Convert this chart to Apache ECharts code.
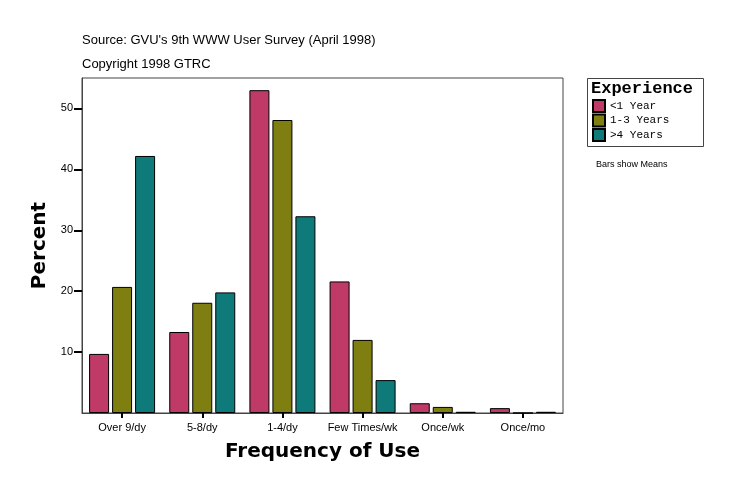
<!DOCTYPE html>
<html><head><meta charset="utf-8">
<script src="https://cdn.jsdelivr.net/npm/echarts@6/dist/echarts.min.js"></script>
<style>html,body{margin:0;padding:0;background:#fff}#c{width:736px;height:496px}</style>
</head><body><div id="c"></div>
<script>
const categories = ['Over 9/dy', '5-8/dy', '1-4/dy', 'Few Times/wk', 'Once/wk', 'Once/mo'];
const lessThan1 = [9.7, 13.3, 53.0, 21.6, 1.6, 0.8];
const oneToThree = [20.7, 18.1, 48.1, 12.0, 1.0, 0.0];
const moreThan4 = [42.2, 19.8, 32.3, 5.4, 0.2, 0.2];
const yTicks = [10, 20, 30, 40, 50];
const seriesNames = ['<1 Year', '1-3 Years', '>4 Years'];
const colors = ['#BF3A66', '#7F7F11', '#0E7A7A'];

const chart = echarts.init(document.getElementById('c'));
const mk = (name, data, color) => ({
  name, type: 'bar', data, barWidth: 20, barGap: '15%',
  itemStyle: { color, borderColor: '#000', borderWidth: 1 }
});
chart.setOption({
  animation: false,
  backgroundColor: '#fff',
  grid: { left: 82, top: 78, right: 173, bottom: 83, show: true, borderColor: '#444', borderWidth: 1 },
  xAxis: {
    type: 'category', data: categories,
    axisLine: { lineStyle: { color: '#444', width: 1 } },
    axisTick: { show: true, alignWithLabel: true, interval: 0, length: 5, lineStyle: { color: '#000', width: 2 } },
    axisLabel: { color: '#000', fontFamily: 'Liberation Sans', fontSize: 11, margin: 9, interval: 0 },
    name: 'Frequency of Use', nameLocation: 'middle', nameGap: 29,
    nameTextStyle: { fontFamily: 'DejaVu Sans', fontWeight: 'bold', fontSize: 20, color: '#000' }
  },
  yAxis: {
    type: 'value', min: 0, max: 55, interval: 10,
    splitLine: { show: false },
    axisLine: { show: true, lineStyle: { color: '#444', width: 1 } },
    axisTick: { show: true, length: 8, customValues: yTicks, lineStyle: { color: '#000', width: 2 } },
    axisLabel: { color: '#000', fontFamily: 'Liberation Sans', fontSize: 11, margin: 9, customValues: yTicks },
    name: 'Percent', nameLocation: 'middle', nameGap: 27, nameRotate: 90,
    nameTextStyle: { fontFamily: 'DejaVu Sans', fontWeight: 'bold', fontSize: 20, color: '#000' }
  },
  legend: {
    orient: 'vertical', left: 592, top: 99, itemWidth: 12, itemHeight: 12, itemGap: 0.5,
    icon: 'rect', data: seriesNames,
    textStyle: { fontFamily: 'Liberation Mono', fontSize: 11, color: '#000', lineHeight: 12 },
    padding: 0
  },
  graphic: [
    { type: 'rect', left: 585, top: 76, shape: { width: 116, height: 68 },
      style: { fill: 'none', stroke: '#444', lineWidth: 1 }, z: 0 },
    { type: 'text', left: 591, top: 80,
      style: { text: 'Experience', font: 'bold 17px "Liberation Mono"', fill: '#000' } },
    { type: 'text', left: 596, top: 160,
      style: { text: 'Bars show Means', font: '9px "Liberation Sans"', fill: '#000' } },
    { type: 'text', left: 82, top: 34,
      style: { text: "Source: GVU's 9th WWW User Survey (April 1998)", font: '13px "Liberation Sans"', fill: '#000' } },
    { type: 'text', left: 82, top: 58,
      style: { text: 'Copyright 1998 GTRC', font: '13px "Liberation Sans"', fill: '#000' } }
  ],
  series: [
    mk(seriesNames[0], lessThan1, colors[0]),
    mk(seriesNames[1], oneToThree, colors[1]),
    mk(seriesNames[2], moreThan4, colors[2])
  ]
});
</script></body></html>
